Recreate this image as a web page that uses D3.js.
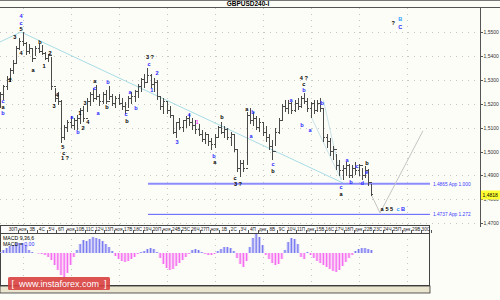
<!DOCTYPE html>
<html>
<head>
<meta charset="utf-8">
<script src="https://cdn.jsdelivr.net/npm/d3@7"></script>
<style>
  body { margin: 0; background: #fff; }
  svg { display: block; font-family: 'Liberation Sans', Arial, sans-serif; }
</style>
</head>
<body>
<svg id="chart" width="500" height="300"></svg>
<script>
// GBPUSD, 8h bars (3 per trading day), prices
const highs = [
  1.5249, 1.5278, 1.5316, 1.5349, 1.5383, 1.5441, 1.5475, 1.5500, 1.5458, 1.5450,
  1.5433, 1.5441, 1.5450, 1.5446, 1.5416, 1.5408, 1.5395, 1.5266, 1.5249, 1.5215,
  1.5111, 1.5132, 1.5149, 1.5140, 1.5153, 1.5182, 1.5190, 1.5224, 1.5249, 1.5266,
  1.5278, 1.5240, 1.5249, 1.5257, 1.5274, 1.5240, 1.5232, 1.5240, 1.5224, 1.5207,
  1.5232, 1.5249, 1.5257, 1.5282, 1.5308, 1.5324, 1.5349, 1.5324, 1.5308, 1.5299,
  1.5232, 1.5224, 1.5207, 1.5190, 1.5149, 1.5124, 1.5140, 1.5132, 1.5149, 1.5157,
  1.5140, 1.5132, 1.5115, 1.5090, 1.5082, 1.5073, 1.5057, 1.5073, 1.5107, 1.5124,
  1.5107, 1.5099, 1.5082, 1.5073, 1.5006, 1.4964, 1.4964, 1.5165, 1.5182, 1.5165,
  1.5149, 1.5140, 1.5124, 1.5107, 1.5073, 1.5048, 1.5099, 1.5140, 1.5199, 1.5215,
  1.5215, 1.5207, 1.5215, 1.5224, 1.5232, 1.5245, 1.5224, 1.5207, 1.5215, 1.5215,
  1.5224, 1.5182, 1.5073, 1.5057, 1.5023, 1.4990, 1.4964, 1.4944, 1.4956, 1.4948,
  1.4944, 1.4956, 1.4948, 1.4931, 1.4939, 1.4927, 1.4864
];
const lows = [
  1.5182, 1.5215, 1.5257, 1.5290, 1.5324, 1.5366, 1.5425, 1.5441, 1.5404, 1.5408,
  1.5374, 1.5400, 1.5412, 1.5404, 1.5383, 1.5374, 1.5257, 1.5207, 1.5195, 1.5036,
  1.5048, 1.5082, 1.5099, 1.5090, 1.5090, 1.5115, 1.5124, 1.5165, 1.5190, 1.5207,
  1.5215, 1.5190, 1.5199, 1.5199, 1.5215, 1.5190, 1.5182, 1.5195, 1.5174, 1.5157,
  1.5182, 1.5199, 1.5207, 1.5224, 1.5249, 1.5266, 1.5291, 1.5266, 1.5249, 1.5215,
  1.5174, 1.5157, 1.5157, 1.5140, 1.5073, 1.5057, 1.5090, 1.5082, 1.5099, 1.5107,
  1.5090, 1.5073, 1.5065, 1.5040, 1.5031, 1.5023, 1.5006, 1.5015, 1.5057, 1.5073,
  1.5057, 1.5048, 1.5023, 1.4998, 1.4914, 1.4893, 1.4914, 1.4944, 1.5115, 1.5107,
  1.5090, 1.5082, 1.5065, 1.5040, 1.5006, 1.4964, 1.5023, 1.5073, 1.5132, 1.5165,
  1.5157, 1.5157, 1.5165, 1.5174, 1.5182, 1.5199, 1.5165, 1.5140, 1.5157, 1.5165,
  1.5165, 1.5040, 1.5015, 1.4981, 1.4964, 1.4923, 1.4898, 1.4881, 1.4898, 1.4889,
  1.4889, 1.4902, 1.4898, 1.4881, 1.4889, 1.4856, 1.4814
];
const closes = [
  1.5240, 1.5270, 1.5300, 1.5340, 1.5370, 1.5430, 1.5460, 1.5450, 1.5420, 1.5430,
  1.5390, 1.5430, 1.5420, 1.5410, 1.5390, 1.5400, 1.5270, 1.5220, 1.5210, 1.5060,
  1.5100, 1.5120, 1.5110, 1.5130, 1.5140, 1.5170, 1.5140, 1.5210, 1.5240, 1.5220,
  1.5230, 1.5210, 1.5240, 1.5210, 1.5230, 1.5200, 1.5220, 1.5200, 1.5190, 1.5170,
  1.5220, 1.5230, 1.5250, 1.5270, 1.5300, 1.5290, 1.5320, 1.5280, 1.5290, 1.5230,
  1.5190, 1.5210, 1.5170, 1.5150, 1.5080, 1.5120, 1.5100, 1.5130, 1.5140, 1.5120,
  1.5110, 1.5090, 1.5070, 1.5050, 1.5070, 1.5040, 1.5030, 1.5060, 1.5100, 1.5080,
  1.5090, 1.5060, 1.5070, 1.5010, 1.4930, 1.4950, 1.4930, 1.5150, 1.5130, 1.5140,
  1.5100, 1.5120, 1.5080, 1.5060, 1.5020, 1.5000, 1.5080, 1.5130, 1.5190, 1.5180,
  1.5200, 1.5170, 1.5200, 1.5190, 1.5220, 1.5210, 1.5180, 1.5200, 1.5170, 1.5200,
  1.5180, 1.5060, 1.5040, 1.5000, 1.5010, 1.4940, 1.4920, 1.4930, 1.4940, 1.4900,
  1.4930, 1.4920, 1.4940, 1.4900, 1.4920, 1.4870, 1.4818
];
// MACD histogram, in pips
const macdPips = [
  1, 3, 5, 7, 8, 10, 10, 10, 8, 3,
  1, 0, -0.5, -1, -2, -4, -7, -12, -17, -22,
  -24, -20, -12, -4, 3, 9, 13, 12, 14, 16,
  15, 14, 12, 9, 6, 2, -3, -6, -8, -9,
  -8, -6, -4, -1, 1, 2, 4, 5, 4, 1,
  -5, -11, -15, -17, -16, -13, -10, -7, -4, -1,
  3, 4, 3, 1, -1, -2, -2, -1, 2, 4,
  6, 6, 5, 2, -5, -11, -14, -8, 6, 15,
  19, 16, 8, -2, -6, -10, -12, -11, -6, 3,
  11, 15, 14, 9, -4, -6, 1, -2, -5, -8,
  -10, -12, -14, -16, -18, -19, -17, -13, -9, -5,
  -2, 2, 4, 5, 5, 4, 3
];
const dayLabels = [
  '30П', 'ноя', '3В', '4С', '5Ч', '6П', 'ноя', '10В', '11С', '12Ч', '13П',
  'ноя', '17В', '18С', '19Ч', '20П', 'ноя', '24В', '25С', '26Ч', '27П',
  'ноя', '1В', '2С', '3Ч', '4П', 'дек', '8В', '9С', '10Ч', '11П',
  'дек', '15В', '16С', '17Ч', '18П', 'дек', '22В', '23С', '24Ч', '25П',
  'дек', '29В', '30С'
];
const priceTicks = [1.47, 1.48, 1.49, 1.50, 1.51, 1.52, 1.53, 1.54, 1.55];
const lastPrice = 1.4818;
const levelPrices = [1.4865, 1.4737];
const levelTexts = ['1.4865 App 1.000', '1.4737 App 1.272'];
const levelSpan = [46.2, 134.3];
// trend lines: [bar1, price1, bar2, price2]
const trendLines = [[-0.1, 1.5458, 6.5, 1.5500], [6.5, 1.5500, 107.8, 1.4864]];
const fanLines = [[101, 1.5215, 106.6, 1.4881], [97, 1.5150, 106.6, 1.4881]];
const projection = [[116, 1.4818], [118.7, 1.4743], [132.1, 1.5086]];
// wave marks: [bar, price, text, colour code]
const waveLabels = [
  [0.9, 1.5213, 'c', 'b'], [0.9, 1.5188, 'a', 'k'], [0.9, 1.5163, 'b', 'b'],
  [3.1, 1.5299, '2', 'k'], [4.6, 1.5479, '3', 'k'], [6.5, 1.5565, '4', 'b'],
  [6.5, 1.5538, 'c', 'b'], [6.5, 1.5511, '5', 'k'], [6.5, 1.5412, '4', 'k'],
  [10.25, 1.5341, 'a', 'k'], [12.4, 1.5458, 'b', 'k'], [13.7, 1.5358, '1', 'k'],
  [15.6, 1.5412, '2', 'k'], [17.75, 1.5236, '4', 'k'], [16.8, 1.5190, '3', 'k'],
  [19.6, 1.5017, '5', 'k'], [19.9, 1.4994, 'c', 'k'], [20.25, 1.4971, '1 ?', 'k'],
  [22.4, 1.5144, 'a', 'b'], [24.3, 1.5082, 'b', 'b'], [24.9, 1.5161, '1', 'k'],
  [25.9, 1.5098, '2', 'k'], [26.5, 1.5203, '3', 'k'], [27.4, 1.5123, '4', 'k'],
  [29.6, 1.5297, 'a', 'k'], [29.6, 1.5266, 'c', 'b'], [30.6, 1.5161, 'a', 'b'],
  [33.7, 1.5291, 'b', 'b'], [33.4, 1.5186, 'b', 'k'], [39.3, 1.5155, 'c', 'b'],
  [39.6, 1.5126, 'b', 'k'], [40.6, 1.5249, 'a', 'b'], [42.4, 1.5182, 'b', 'b'],
  [46.8, 1.5397, '3 ?', 'k'], [46.5, 1.5368, 'c', 'b'], [47.4, 1.5257, '1', 'b'],
  [49, 1.5328, '2', 'b'], [55.25, 1.5040, '3', 'b'], [59, 1.5153, '4', 'b'],
  [61.5, 1.5123, '1', 'p'], [66.8, 1.4983, 'b', 'b'], [67.1, 1.4958, 'a', 'k'],
  [69.3, 1.5144, 'b', 'k'], [73.4, 1.4889, 'c', 'k'], [74.3, 1.4862, '3 ?', 'k'],
  [77.1, 1.5176, 'a', 'k'], [79, 1.5165, 'b', 'b'], [78.4, 1.5065, 'a', 'b'],
  [85.25, 1.4948, 'c', 'b'], [85.25, 1.4919, 'b', 'k'], [90.9, 1.5215, 'a', 'b'],
  [94.3, 1.5111, 'b', 'b'], [96.8, 1.5090, 'a', 'b'], [94.9, 1.5307, '4 ?', 'k'],
  [94.9, 1.5282, 'c', 'k'], [94.9, 1.5256, 'b', 'b'], [100.6, 1.5203, 'b', 'b'],
  [108.4, 1.4964, 'a', 'b'], [106.5, 1.4853, 'c', 'b'], [106.5, 1.4824, 'a', 'k'],
  [109.6, 1.4872, 'b', 'b'], [111.5, 1.4939, 'c', 'b'], [113.1, 1.4868, 'd', 'b'],
  [114.6, 1.4916, 'e', 'b'], [114.6, 1.4950, 'b', 'k'],
  [119.3, 1.4759, 'a', 'k'], [121.6, 1.4759, '5 5', 'k'], [124.3, 1.4759, 'c', 'c'],
  [125.9, 1.4759, 'B', 'b'],
  [122.8, 1.5538, '?', 'k'], [125, 1.5554, 'B', 'c'], [125, 1.5521, 'C', 'b']
];

const colours = { k: '#000', b: '#2a2aff', c: '#2fa0ff', p: '#ff3cff' };

const svg = d3.select('#chart');
const W = 500;
const plot = { left: 0, right: 480, top: 7, bottom: 225 };
const sub = { right: 429, top: 233, bottom: 285 };

const x = d3.scaleLinear().domain([0, 100]).range([0.2, 320.2]);
const y = d3.scaleLinear().domain([1.47, 1.55]).range([223.2, 32]);
const ym = d3.scaleLinear().domain([-32, 20]).range([sub.bottom, sub.top]);
const fmtPrice = p => d3.format('.4f')(p).replace('.', ',');

// background
svg.append('rect').attr('width', W).attr('height', 300).attr('fill', '#fdfdf7');

// title bar
svg.append('line').attr('x1', 0).attr('x2', W).attr('y1', 0.5).attr('y2', 0.5)
    .attr('stroke', '#777');
svg.append('line').attr('x1', 0).attr('x2', W).attr('y1', 7.5).attr('y2', 7.5)
    .attr('stroke', '#555');
svg.append('text')
    .attr('x', 248).attr('y', 6)
    .attr('text-anchor', 'middle')
    .attr('font-size', 6.5).attr('font-weight', 'bold')
    .text('GBPUSD240-I');

// dotted grid
const grid = svg.append('g').attr('stroke', '#c8c8c8').attr('stroke-dasharray', '1,5');
priceTicks.forEach((p) => {
  grid.append('line').attr('x1', 0).attr('x2', plot.right)
      .attr('y1', Math.round(y(p)) + 0.5).attr('y2', Math.round(y(p)) + 0.5);
});
dayLabels.forEach((d, k) => {
  if (k % 5 !== 1) return;
  const xp = Math.round(x(3 * k + 4)) + 0.5;
  grid.append('line').attr('x1', xp).attr('x2', xp).attr('y1', 8).attr('y2', plot.bottom);
  grid.append('line').attr('x1', xp).attr('x2', xp).attr('y1', sub.top).attr('y2', sub.bottom);
});

const main = svg.append('g');

// trend lines
main.selectAll('.trend').data(trendLines).enter().append('line')
    .attr('x1', d => x(d[0])).attr('y1', d => y(d[1]))
    .attr('x2', d => x(d[2])).attr('y2', d => y(d[3]))
    .attr('stroke', '#a8dce6').attr('stroke-width', 1);
main.selectAll('.fan').data(fanLines).enter().append('line')
    .attr('x1', d => x(d[0])).attr('y1', d => y(d[1]))
    .attr('x2', d => x(d[2])).attr('y2', d => y(d[3]))
    .attr('stroke', '#c9e3ea').attr('stroke-width', 1);

// target levels
levelPrices.forEach((p, k) => {
  main.append('line')
      .attr('x1', x(levelSpan[0])).attr('x2', x(levelSpan[1]))
      .attr('y1', y(p)).attr('y2', y(p))
      .attr('stroke', k === 0 ? '#8c8cff' : '#5a5aff')
      .attr('stroke-width', k === 0 ? 2 : 1);
  main.append('text')
      .attr('x', x(levelSpan[1]) + 3).attr('y', y(p) + 1.8)
      .attr('font-size', 4.8).attr('fill', '#3a3aff')
      .text(levelTexts[k]);
});

// projection
main.append('path')
    .datum(projection)
    .attr('fill', 'none').attr('stroke', '#c4c4c4').attr('stroke-width', 1)
    .attr('d', d3.line().x(d => x(d[0])).y(d => y(d[1])));

// OHLC bars
const bars = main.append('g').attr('stroke', '#4a4a4a').attr('shape-rendering', 'crispEdges');
highs.forEach((h, i) => {
  const xp = Math.round(x(i)) + 0.5;
  const open = i > 0 ? closes[i - 1] : closes[i];
  bars.append('line').attr('x1', xp).attr('x2', xp).attr('y1', y(h)).attr('y2', y(lows[i]));
  bars.append('line').attr('x1', xp - 1.5).attr('x2', xp).attr('y1', y(open)).attr('y2', y(open));
  bars.append('line').attr('x1', xp).attr('x2', xp + 1.5).attr('y1', y(closes[i])).attr('y2', y(closes[i]));
});

// wave marks
main.selectAll('.wave').data(waveLabels).enter().append('text')
    .attr('x', d => x(d[0])).attr('y', d => y(d[1]) + 2)
    .attr('text-anchor', 'middle')
    .attr('font-size', 5.6).attr('font-weight', 'bold')
    .attr('fill', d => colours[d[3]])
    .text(d => d[2]);

// price axis
svg.append('line').attr('x1', plot.right + 0.5).attr('x2', plot.right + 0.5)
    .attr('y1', 7).attr('y2', plot.bottom + 2).attr('stroke', '#555');
priceTicks.forEach((p) => {
  const yp = Math.round(y(p)) + 0.5;
  svg.append('line').attr('x1', plot.right).attr('x2', plot.right + 3)
      .attr('y1', yp).attr('y2', yp).attr('stroke', '#555');
  svg.append('text').attr('x', plot.right + 3.5).attr('y', yp + 1.8)
      .attr('font-size', 5).attr('fill', '#333')
      .text(fmtPrice(p));
});
svg.append('rect')
    .attr('x', plot.right + 1).attr('y', y(lastPrice) - 4.5)
    .attr('width', 19).attr('height', 9).attr('fill', '#ffff33');
svg.append('text').attr('x', plot.right + 2.5).attr('y', y(lastPrice) + 1.8)
    .attr('font-size', 5).attr('fill', '#000')
    .text(fmtPrice(lastPrice));

// date strip
svg.append('rect').attr('x', 0.5).attr('y', plot.bottom + 0.5)
    .attr('width', sub.right).attr('height', sub.top - plot.bottom)
    .attr('fill', '#fbfbfb').attr('stroke', '#444');
dayLabels.forEach((d, k) => {
  const xp = x(3 * k + 4);
  svg.append('text').attr('x', xp).attr('y', 231)
      .attr('text-anchor', 'middle').attr('font-size', 4.6).attr('fill', '#222')
      .text(d);
  svg.append('line').attr('x1', Math.round(xp + 4.8) + 0.5).attr('x2', Math.round(xp + 4.8) + 0.5)
      .attr('y1', plot.bottom + 5).attr('y2', sub.top).attr('stroke', '#555');
});

// MACD panel
svg.append('rect').attr('x', 0.5).attr('y', sub.top + 0.5)
    .attr('width', sub.right).attr('height', sub.bottom - sub.top)
    .attr('fill', 'none').attr('stroke', '#444');
const hist = svg.append('g');
macdPips.forEach((v, i) => {
  const xp = x(i);
  hist.append('rect')
      .attr('x', xp - 1.6).attr('width', 3.2)
      .attr('y', Math.min(ym(v), ym(0))).attr('height', Math.abs(ym(v) - ym(0)))
      .attr('fill', v >= 0 ? '#cfcff8' : '#fbcdf6');
  hist.append('line')
      .attr('x1', xp).attr('x2', xp).attr('y1', ym(0)).attr('y2', ym(v))
      .attr('stroke', v >= 0 ? '#7b7bf0' : '#f46cf0').attr('stroke-width', 1.2);
});
svg.append('text').attr('x', 3).attr('y', 240).attr('font-size', 5.2).text('MACD 9,36,6');
const mt = svg.append('text').attr('x', 3).attr('y', 246).attr('font-size', 5.2);
mt.append('tspan').text('MACD = ');
mt.append('tspan').attr('fill', '#3030ff').text('0,00');

// bottom strip
svg.append('rect').attr('x', 0).attr('y', 286).attr('width', sub.right + 1).attr('height', 7)
    .attr('fill', '#e9e5cf').attr('stroke', '#333').attr('stroke-width', 0.8);

// watermark
svg.append('rect').attr('x', 8).attr('y', 277).attr('width', 102).attr('height', 13)
    .attr('rx', 1.5).attr('fill', '#d9403f').attr('opacity', 0.9);
svg.append('text').attr('x', 59).attr('y', 287)
    .attr('text-anchor', 'middle').attr('font-size', 9)
    .attr('fill', '#fff')
    .attr('xml:space', 'preserve')
    .text('[  www.instaforex.com  ]');
</script>
</body>
</html>
